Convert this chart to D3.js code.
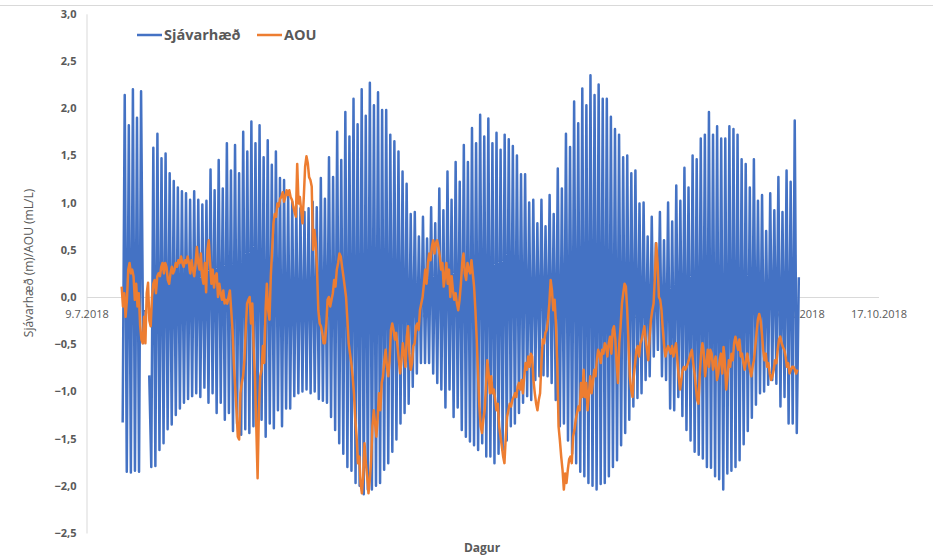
<!DOCTYPE html>
<html>
<head>
<meta charset="utf-8">
<script src="https://cdn.jsdelivr.net/npm/d3@7"></script>
<style>
  body { margin: 0; background: #fff; }
  text { font-family: "Open Sans", "Liberation Sans", sans-serif; fill: #595959; }
</style>
</head>
<body>
<div id="chart"></div>
<script>
// sea level: one low and one high water per tidal cycle
const tideStart = "2018-07-13T13:40:00Z";
const tidePeriodHours = 12.38;
const lowWater = [
  -1.33, -1.85, -1.86, -1.84, -1.85, -0.50, null, -1.80, -1.79, -1.62, -1.55, -1.40, -1.35, -1.25, -1.18, -1.12, -1.08, -1.05, -1.02, -1.06,
  -0.96, -1.12, -1.02, -1.23, -1.12, -1.30, -1.23, -1.42, -1.34, -1.46, -1.40, -1.44, -1.37, -1.48, -1.30, -1.48, -1.34, -1.39, -1.20, -1.37,
  -1.18, -1.18, -1.05, -1.02, -1.00, -0.98, -1.02, -1.00, -1.08,
  -1.10, -1.12, -1.27, -1.41, -1.55, -1.66, -1.80, -1.84, -1.97, -2.00, -2.09, -2.04, -2.04, -2.00, -1.97, -1.83, -1.76, -1.64, -1.51, -1.34,
  -1.23, -1.13, -0.95, -0.81, -0.70, -0.70, -0.70, -0.81, -0.91, -0.98,
  -1.17, -0.98, -1.27, -1.17, -1.41, -1.48, -1.53, -1.57, -1.62, -1.55, -1.69, -1.69, -1.76, -1.66, -1.62, -1.52, -1.37, -1.34, -1.23, -1.12,
  -1.05, -1.09, -0.88, -0.84, -0.83, -0.84, -0.91, -1.09, -1.37,
  -1.34, -1.52, -1.66, -1.76, -1.85, -1.90, -1.97, -2.00, -2.04, -1.98, -1.97, -1.90, -1.80, -1.73, -1.57, -1.44, -1.30, -1.16, -1.07, -1.02,
  -0.88, -0.84, -0.63, -0.56, -0.84, -0.88, -1.18, -1.20, -1.06,
  -1.26, -1.41, -1.52, -1.64, -1.67, -1.71, -1.80, -1.81, -1.90, -1.93, -2.04, -1.87, -1.84, -1.80, -1.73, -1.56, -1.42, -1.28, -1.14, -1.02,
  -1.00, -0.93, -0.88, -0.92, -1.16, -1.06, -1.34, -1.34, -1.44
];
const highWater = [
  2.14, 1.82, 2.20, 1.90, 2.18, null, -0.83, 1.58, 1.73, 1.47, 1.52, 1.31, 1.23, 1.16, 1.12, 1.10, 1.03, 1.12, 1.03, 0.98,
  1.02, 1.35, 1.13, 1.45, 1.15, 1.63, 1.34, 1.61, 1.31, 1.75, 1.54, 1.86, 1.63, 1.82, 1.48, 1.66, 1.40, 1.54, 1.26, 1.24,
  1.08, 1.01, 0.97, 0.94, 0.90, 0.94, 1.01, 0.95, 1.26,
  1.04, 1.48, 1.27, 1.75, 1.45, 1.96, 1.70, 2.10, 1.83, 2.20, 1.92, 2.27, 2.03, 2.17, 1.98, 1.98, 1.72, 1.65, 1.54, 1.33,
  1.20, 0.88, 0.90, 0.64, 0.85, 0.62, 0.95, 0.78, 1.15, 0.92,
  1.33, 1.03, 1.43, 1.22, 1.61, 1.43, 1.79, 1.63, 1.93, 1.70, 1.89, 1.63, 1.74, 1.56, 1.72, 1.67, 1.60, 1.50, 1.30, 1.30,
  1.00, 1.03, 0.78, 1.03, 0.75, 1.08, 0.88, 1.36, 1.15,
  1.73, 1.59, 2.07, 1.84, 2.21, 2.03, 2.35, 2.14, 2.25, 2.10, 2.10, 1.91, 1.78, 1.72, 1.48, 1.50, 1.31, 1.34, 0.99, 1.00,
  0.64, 0.85, 0.57, 0.90, 0.60, 1.00, 0.80, 1.18, 1.02,
  1.37, 1.16, 1.50, 1.46, 1.68, 1.72, 1.96, 1.72, 1.81, 1.68, 1.68, 1.81, 1.78, 1.72, 1.46, 1.41, 1.16, 1.46, 1.02, 1.08,
  0.70, 1.10, 0.92, 1.27, 0.90, 1.34, 1.22, 1.87, 0.21
];

// AOU, one reading every 4 hours
const aouStart = "2018-07-13T10:30:00Z";
const aouStepHours = 4;
const aouValues = [
  0.11, -0.10, 0.04, -0.21, -0.03, 0.29, 0.36, 0.25, 0.29, 0.22, -0.03, 0.14, -0.10, 0.04, -0.30, -0.45, -0.49, -0.21, -0.49, 0.04,
  0.15, -0.25, -0.31, 0.00, 0.14, 0.18, 0.04, 0.22, 0.25, 0.22, 0.32, 0.36, 0.25, 0.36, 0.32, 0.18, 0.14, 0.25, 0.32, 0.25,
  0.29, 0.36, 0.32, 0.39, 0.36, 0.43, 0.36, 0.32, 0.39, 0.36, 0.43, 0.36, 0.25, 0.39, 0.29, 0.22, 0.36, 0.53, 0.36, 0.29,
  0.46, 0.22, 0.14,
  0.36, 0.05, 0.50, 0.60, 0.36, 0.14, 0.29, 0.10, 0.22, 0.25, 0.00, 0.14, 0.04, -0.03, 0.07, -0.07, -0.03, -0.07, 0.00, 0.07,
  -0.14, -0.35, -0.70, -0.95, -1.20, -1.48, -1.51, -1.02, -0.91, -0.84, -0.67, -0.35, -0.07, -0.03, 0.00, -0.28, -0.07, -0.53, -0.84, -1.37,
  -1.92, -1.20, -0.84, -0.77, -0.52, -0.70, -0.14, 0.14, -0.14, -0.24, 0.22, 0.50, 0.78, 0.88, 0.85, 0.99, 0.96, 1.04, 1.06, 1.11,
  1.01, 1.06, 1.13, 1.08, 1.13, 1.06, 1.03, 0.96, 0.90, 0.85, 1.41, 0.99, 1.06, 0.92, 0.78, 1.06, 1.38, 1.49, 1.42, 1.27,
  1.24, 1.17, 0.50, 0.71, 0.57, 0.29, -0.14, -0.28, -0.31, -0.38, -0.49,
  -0.49, -0.31, -0.03, 0.00, -0.10, -0.03, 0.04, 0.18, 0.11, 0.29, 0.36, 0.46, 0.43, 0.32, 0.22, 0.11, 0.00, -0.24, -0.49, -0.60,
  -0.70, -0.84, -1.02, -1.30, -1.48, -1.76, -1.69, -1.97, -2.08, -1.90, -1.55, -1.76, -1.90, -2.08, -1.94, -1.73, -1.37, -1.20, -1.34, -1.48,
  -1.27, -1.02, -1.20, -0.91, -0.84, -0.67, -0.56, -0.74, -0.84, -0.67, -0.35, -0.28, -0.35, -0.45, -0.38, -0.52, -0.67, -0.81, -0.67, -0.49,
  -0.60, -0.74, -0.42, -0.31, -0.60, -0.77, -0.70, -0.52, -0.49, -0.31, -0.28, -0.35, -0.14, -0.07, 0.00, 0.14, 0.29, 0.14, 0.36, 0.46,
  0.39, 0.53, 0.60, 0.46, 0.57, 0.60, 0.53, 0.43, 0.29, 0.36, 0.11,
  0.22, 0.36, 0.14, 0.29, 0.00, 0.22, 0.07, -0.03, 0.04, -0.07, -0.14, -0.03, 0.14, 0.36, 0.46, 0.25, 0.18, 0.36, 0.29, 0.25,
  0.39, 0.25, 0.11, -0.14, -0.45, -0.81, -1.16, -1.37, -1.44, -1.30, -1.20, -0.95, -0.67, -0.81, -1.02, -0.84, -1.02, -0.98, -1.09, -1.20,
  -1.13, -1.37, -1.48, -1.58, -1.69, -1.76, -1.48, -1.27, -1.20, -1.13, -1.16, -1.09, -1.06, -1.02, -1.06, -0.95, -0.91, -0.98, -0.88, -1.02,
  -0.84, -0.70, -0.77, -0.63, -0.74, -0.60, -0.63, -0.88, -1.02, -1.13, -1.20, -1.09, -1.02, -0.70, -0.45, -0.49, -0.38, -0.35, -0.24, -0.07,
  0.18, 0.07, -0.14, -0.03, -0.28, -0.70, -1.37, -1.52, -1.69, -1.83, -2.04,
  -1.87, -1.97, -1.83, -1.72, -1.69, -1.76, -1.48, -1.41, -1.30, -1.23, -1.16, -1.20, -0.91, -1.06, -0.77, -1.06, -0.91, -1.20, -1.02, -0.84,
  -1.02, -0.91, -0.77, -0.84, -0.67, -0.56, -0.60, -0.70, -0.56, -0.60, -0.49, -0.52, -0.63, -0.49, -0.42, -0.60, -0.35, -0.31, -0.45, -0.70,
  -0.91, -0.49, -0.31, -0.07, 0.04, 0.14, 0.11, -0.14, -0.49, -0.84, -0.98, -1.06, -0.84, -0.70, -0.56, -0.52, -0.63, -0.49, -0.45, -0.38,
  -0.31, -0.45, -0.56, -0.67, -0.42, -0.24, -0.14, -0.07, 0.22, 0.57, 0.36, 0.00, -0.03, -0.14, -0.35, -0.52, -0.63, -0.56, -0.52, -0.56,
  -0.60, -0.52, -0.63, -0.56, -0.49, -0.67, -0.84, -0.98, -0.88, -0.77, -0.74,
  -0.77, -0.74, -0.70, -0.65, -0.60, -0.56, -0.70, -0.81, -0.95, -1.09, -1.13, -0.81, -0.60, -0.49, -0.60, -0.84, -0.70, -0.56, -0.74, -0.56,
  -0.60, -0.77, -0.70, -0.63, -0.88, -0.81, -0.67, -0.60, -0.81, -0.53, -0.70, -0.98, -0.84, -0.67, -0.74, -0.60, -0.67, -0.49, -0.42, -0.49,
  -0.56, -0.45, -0.63, -0.60, -0.70, -0.77, -0.67, -0.60, -0.70, -0.77, -0.84, -0.74, -0.67, -0.53, -0.38, -0.24, -0.18, -0.24, -0.38, -0.56,
  -0.67, -0.60, -0.74, -0.70, -0.81, -0.88, -0.84, -0.77, -0.67, -0.70, -0.56, -0.45, -0.42, -0.49, -0.53, -0.56, -0.63, -0.74, -0.70, -0.81,
  -0.77, -0.74, -0.74, -0.77, -0.81, -0.77
];

// axis ticks and labels
const xTickDates = ["2018-07-09", "2018-07-19", "2018-07-29", "2018-08-08", "2018-08-18", "2018-08-28",
                    "2018-09-07", "2018-09-17", "2018-09-27", "2018-10-07", "2018-10-17"];
const yTickValues = [3.0, 2.5, 2.0, 1.5, 1.0, 0.5, 0.0, -0.5, -1.0, -1.5, -2.0, -2.5];
const seriesNames = ["Sjávarhæð", "AOU"];
const seriesColors = ["#4472C4", "#ED7D31"];

const width = 933, height = 555;
const svg = d3.select("#chart").append("svg")
  .attr("width", width)
  .attr("height", height);

const hour = 3600 * 1000;
const x = d3.scaleUtc()
  .domain([new Date("2018-07-09T00:00:00Z"), new Date("2018-10-17T00:00:00Z")])
  .range([86.5, 878.5]);
const y = d3.scaleLinear()
  .domain([-2.5, 3])
  .range([533, 13.8]);

// chart frame top edge
svg.append("line")
  .attr("x1", 0).attr("x2", width)
  .attr("y1", 5.5).attr("y2", 5.5)
  .attr("stroke", "#d9d9d9");

// y axis
const yAxis = svg.append("g")
  .attr("transform", `translate(${x.range()[0]},0)`)
  .call(d3.axisLeft(y).tickValues(yTickValues).tickSize(0).tickPadding(10)
    .tickFormat(d => d3.format(".1f")(d).replace(".", ",")));
yAxis.select(".domain").attr("stroke", "#d9d9d9");
yAxis.selectAll("text")
  .style("font-size", "11px")
  .style("font-weight", "bold")
  .attr("fill", "#595959");

// x axis at zero
const xAxis = svg.append("g")
  .attr("transform", `translate(0,${y(0)})`)
  .call(d3.axisBottom(x).tickValues(xTickDates.map(d => new Date(d + "T00:00:00Z"))).tickSize(0).tickPadding(13)
    .tickFormat(d => `${d.getUTCDate()}.${d.getUTCMonth() + 1}.${d.getUTCFullYear()}`));
xAxis.select(".domain").attr("stroke", "#d9d9d9");
xAxis.selectAll("text")
  .style("font-size", "11px")
  .attr("fill", "#666");

// axis titles
svg.append("text")
  .attr("transform", "translate(33,263) rotate(-90)")
  .attr("text-anchor", "middle")
  .style("font-size", "12px")
  .text("Sjávarhæð (m)/AOU (mL/L)");

svg.append("text")
  .attr("x", 482).attr("y", 552)
  .attr("text-anchor", "middle")
  .style("font-size", "12px")
  .style("font-weight", "bold")
  .text("Dagur");

// sea level series: low, high, low, high ...
const t0 = new Date(tideStart).getTime();
const tide = [];
lowWater.forEach((v, i) => {
  tide.push({date: new Date(t0 + i * tidePeriodHours * hour), value: v});
  tide.push({date: new Date(t0 + (i + 0.5) * tidePeriodHours * hour), value: highWater[i]});
});

const a0 = new Date(aouStart).getTime();
const aou = aouValues.map((v, i) => ({date: new Date(a0 + i * aouStepHours * hour), value: v}));

const line = d3.line()
  .defined(d => d.value !== null)
  .x(d => x(d.date))
  .y(d => y(d.value));

svg.append("path")
  .datum(tide)
  .attr("fill", "none")
  .attr("stroke", seriesColors[0])
  .attr("stroke-width", 2.5)
  .attr("stroke-linejoin", "round")
  .attr("d", line);

svg.append("path")
  .datum(aou)
  .attr("fill", "none")
  .attr("stroke", seriesColors[1])
  .attr("stroke-width", 2.5)
  .attr("stroke-linejoin", "round")
  .attr("d", line);

// legend
const legendX = [137, 257];
const legend = svg.append("g");
seriesNames.forEach((name, i) => {
  legend.append("line")
    .attr("x1", legendX[i]).attr("x2", legendX[i] + 25)
    .attr("y1", 35).attr("y2", 35)
    .attr("stroke", seriesColors[i])
    .attr("stroke-width", 2.5);
  legend.append("text")
    .attr("x", legendX[i] + 27).attr("y", 40)
    .style("font-size", "14.5px")
    .style("font-weight", "bold")
    .text(name);
});
</script>
</body>
</html>
